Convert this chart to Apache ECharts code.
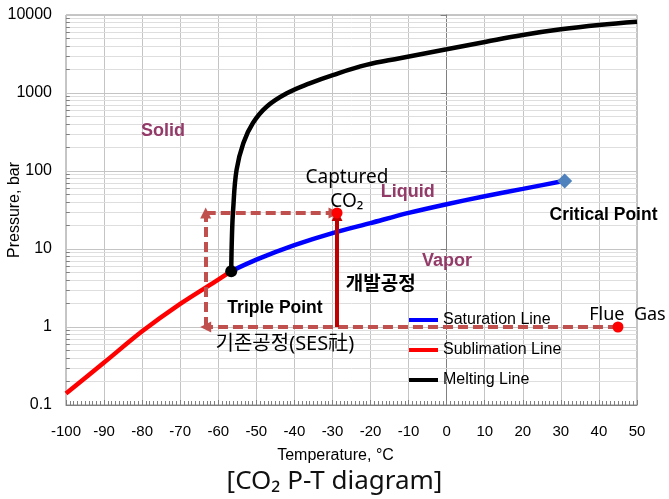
<!DOCTYPE html>
<html>
<head>
<meta charset="utf-8">
<script src="https://cdn.jsdelivr.net/npm/echarts@6/dist/echarts.min.js"></script>
<style>html,body{margin:0;padding:0;background:#fff}#c{width:669px;height:499px}</style>
</head>
<body>
<div id="c"></div>
<script>
// ---- data ----
const xTicks = [-100,-90,-80,-70,-60,-50,-40,-30,-20,-10,0,10,20,30,40,50];
const yTicks = [0.1,1,10,100,1000,10000];
const subT = [-100,-90,-80,-70,-60,-56.6];
const subP = [0.14,0.35,0.88,1.98,4.05,5.2];
const satT = [-56.6,-50,-40,-30,-20,-10,0,10,20,31];
const satP = [5.2,7.3,11.2,16,21.5,29,37.5,47.5,59,75];
const meltT = [-56.6,-56.4,-56.1,-55.2,-53.4,-50.9,-47.3,-42,-36,-29.9,-21.1,-12.3,0,10.4,20,30,40,50];
const meltP = [5.2,15,31.6,103,229,412,667,991,1330,1700,2290,2790,3630,4550,5550,6560,7450,8200];
const criticalPt = [31,74.5];
const triplePt = [-56.6,5.2];
const capturedPt = [-28.8,29];
const fluePt = [45,1];
const loopLeftT = -63.3;
const legendNames = ['Saturation Line','Sublimation Line','Melting Line'];

const zip = (a,b)=>a.map((v,i)=>[v,b[i]]);

// minor gridlines (log decades)
const minorVals = [];
for (let e=-1;e<4;e++) for (let m=2;m<=9;m++) minorVals.push(m*Math.pow(10,e));

const purple = '#933A68';
const latin = "'Liberation Sans', Arial, sans-serif";
const cjk = "'Noto Sans', 'Noto Sans CJK KR', sans-serif";

function textSeries(pt, text, style){
  return {type:'scatter', data:[pt], symbolSize:0, itemStyle:{color:'rgba(0,0,0,0)', opacity:1}, silent:true, z:10,
    label:Object.assign({show:true, position:'inside', formatter:text, color:'#000', opacity:1}, style),
    labelLayout:{hideOverlap:false}};
}

const chart = echarts.init(document.getElementById('c'));
chart.setOption({
  animation:false,
  backgroundColor:'#fff',
  title:{text:'[CO₂ P-T diagram]', left:'center', top:469, padding:0,
    textStyle:{fontFamily:cjk, fontSize:26, fontWeight:'normal', color:'#111'}},
  grid:{left:66, right:32, top:15, bottom:94, show:true, borderColor:'#8c8c8c', borderWidth:1,
    containLabel:false, outerBoundsMode:'none'},
  legend:{data:legendNames, orient:'vertical', left:409, top:312, padding:0, itemWidth:29, itemHeight:4, itemGap:14,
    icon:'rect', textStyle:{fontFamily:latin, fontSize:16, color:'#000'}, selectedMode:false},
  xAxis:{type:'value', min:-100, max:50, interval:10,
    name:'Temperature, °C', nameLocation:'middle', nameGap:43, nameMoveOverlap:false,
    nameTextStyle:{fontFamily:latin, fontSize:16, color:'#000', padding:[0,32,0,0]},
    axisLine:{show:true, lineStyle:{color:'#808080', width:1}},
    axisTick:{show:true, inside:true, length:5, lineStyle:{color:'#808080'}},
    minorTick:{show:true, splitNumber:10, length:4, lineStyle:{color:'#808080'}},
    axisLabel:{fontFamily:latin, fontSize:15, color:'#000', margin:19},
    splitLine:{show:true, lineStyle:{color:'#c4c4c4', width:1}}},
  yAxis:{type:'log', logBase:10, min:0.1, max:10000,
    name:'Pressure, bar', nameLocation:'middle', nameGap:43, nameRotate:90, nameMoveOverlap:false,
    nameTextStyle:{fontFamily:latin, fontSize:16, color:'#000'},
    axisLine:{show:true, lineStyle:{color:'#808080', width:1}},
    axisTick:{show:true, length:6, lineStyle:{color:'#808080'}},
    axisLabel:{fontFamily:latin, fontSize:16, color:'#000', margin:14,
      formatter:v=> v<1 ? (Math.round(v*10)/10).toString() : Math.round(v).toString()},
    splitLine:{show:true, lineStyle:{color:'#c4c4c4', width:1}}},
  series:[
    {type:'line', name:'_minor', data:[], z:1, silent:true,
      markLine:{silent:true, z:1, symbol:['none','none'], label:{show:false}, animation:false,
        lineStyle:{color:'#dedede', width:1, type:'solid'},
        data: minorVals.map(v=>({yAxis:v}))
          .concat(minorVals.map(v=>[{coord:[-100,v], lineStyle:{color:'#808080'}},{coord:[-99,v]}]))}},
    {type:'line', name:'Sublimation Line', data:zip(subT,subP), smooth:0.3, showSymbol:false, symbol:'none',
      lineStyle:{color:'#ff0000', width:4.5}, itemStyle:{color:'#ff0000'}, z:3},
    {type:'line', name:'Saturation Line', data:zip(satT,satP), smooth:0.3, showSymbol:false, symbol:'none',
      lineStyle:{color:'#0000ff', width:4.5}, itemStyle:{color:'#0000ff'}, z:3},
    {type:'line', name:'Melting Line', data:zip(meltT,meltP), smooth:0.4, showSymbol:false, symbol:'none',
      lineStyle:{color:'#000', width:4.5}, itemStyle:{color:'#000'}, z:3},
    {type:'line', name:'_arrows', data:[], z:4, silent:true,
      markLine:{silent:true, z:4, symbol:['none','triangle'], symbolSize:[11,11], label:{show:false}, animation:false,
        data:[
          [{coord:[fluePt[0],fluePt[1]], lineStyle:{color:'#C0504D', width:4, type:[10,5]}},{coord:[loopLeftT,fluePt[1]]}],
          [{coord:[loopLeftT,fluePt[1]], lineStyle:{color:'#C0504D', width:4, type:[10,5]}},{coord:[loopLeftT,capturedPt[1]]}],
          [{coord:[loopLeftT,capturedPt[1]], lineStyle:{color:'#C0504D', width:4, type:[10,5]}},{coord:[capturedPt[0]-0.8,capturedPt[1]]}],
          [{coord:[capturedPt[0],fluePt[1]], lineStyle:{color:'#C00000', width:4, type:'solid'}},{coord:[capturedPt[0],capturedPt[1]*0.93]}]
        ]}},
    {type:'scatter', data:[triplePt], symbol:'circle', symbolSize:12, itemStyle:{color:'#000', opacity:1}, z:6, silent:true},
    {type:'scatter', data:[criticalPt], symbol:'diamond', symbolSize:15, itemStyle:{color:'#4F81BD', opacity:1}, z:6, silent:true},
    {type:'scatter', data:[capturedPt, fluePt], symbol:'circle', symbolSize:11, itemStyle:{color:'#ff0000', opacity:1}, z:6, silent:true},
    textSeries([-74.5,330],'Solid',{fontFamily:latin, fontSize:18, fontWeight:'bold', color:purple}),
    textSeries([-10.2,54],'Liquid',{fontFamily:latin, fontSize:18, fontWeight:'bold', color:purple}),
    textSeries([0.1,7.1],'Vapor',{fontFamily:latin, fontSize:18, fontWeight:'bold', color:purple}),
    textSeries([41.2,27.3],'Critical Point',{fontFamily:latin, fontSize:17.5, fontWeight:'bold'}),
    textSeries([-45.1,1.73],'Triple Point',{fontFamily:latin, fontSize:17.5, fontWeight:'bold'}),
    textSeries([-17.3,3.5],'개발공정',{fontFamily:cjk, fontSize:19, fontWeight:'bold'}),
    textSeries([-42.5,0.605],'기존공정(SES社)',{fontFamily:cjk, fontSize:20}),
    textSeries([-26.2,57],'Captured\nCO₂',{fontFamily:cjk, fontSize:19, lineHeight:24, align:'center'}),
    textSeries([47.5,1.45],'Flue  Gas',{fontFamily:cjk, fontSize:18})
  ]
});
</script>
</body>
</html>
